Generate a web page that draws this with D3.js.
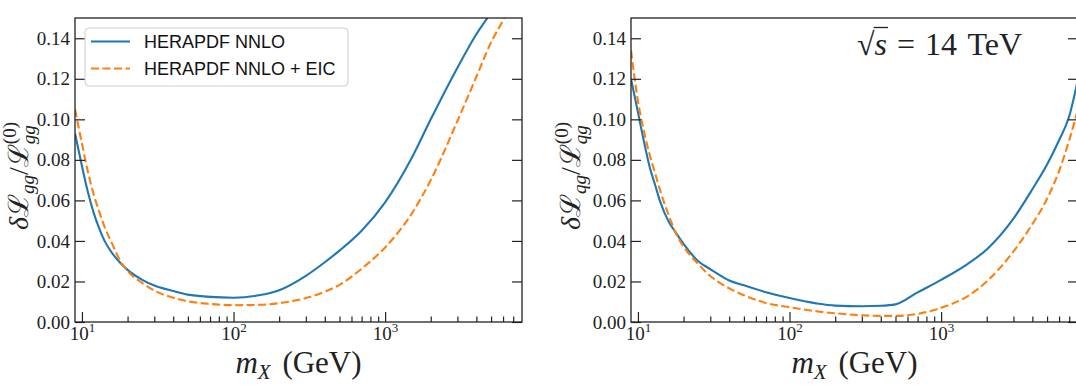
<!DOCTYPE html>
<html>
<head>
<meta charset="utf-8">
<script src="https://cdn.jsdelivr.net/npm/d3@7"></script>
<style>
  body { margin: 0; background: #fff; }
  svg { display: block; }
</style>
</head>
<body>
<svg id="chart"></svg>
<script>
const width = 1076, height = 385;

// mass grid (GeV) shared by all curves
const mass = [9, 10, 11, 12, 13, 14, 16, 18, 20, 25, 30, 40, 50, 70, 100, 150, 200, 300, 400, 500,
              700, 1000, 1500, 2000, 3000, 4000, 5000, 6000, 7000, 8000];

// gg luminosity uncertainty
const ggHera = [0.093, 0.077, 0.0635, 0.0535, 0.0462, 0.0405, 0.0335, 0.0290, 0.0257, 0.0208, 0.018, 0.0153, 0.0135, 0.0124, 0.0120, 0.0133, 0.0157, 0.0228, 0.0295, 0.0352,
                0.0450, 0.059, 0.081, 0.100, 0.1255, 0.142, 0.1525, null, null, null];
const ggEic  = [0.105, 0.088, 0.0735, 0.0625, 0.0545, 0.0476, 0.0378, 0.0298, 0.0252, 0.0192, 0.0155, 0.012, 0.0102, 0.0089, 0.0083, 0.0085, 0.0093, 0.0118, 0.0150, 0.0183,
                0.0263, 0.0368, 0.0535, 0.070, 0.0992, 0.121, 0.138, 0.149, 0.160, null];

// qg luminosity uncertainty
const qgHera = [0.120, 0.1035, 0.0884, 0.076, 0.0675, 0.0595, 0.0493, 0.0435, 0.0385, 0.030, 0.0261, 0.0205, 0.0181, 0.0147, 0.0118, 0.0092, 0.0081, 0.0078, 0.0080, 0.0087,
                0.0146, 0.0208, 0.0287, 0.0358, 0.0510, 0.0655, 0.0777, 0.0897, 0.1015, 0.120];
const qgEic  = [0.134, 0.109, 0.0935, 0.082, 0.0732, 0.065, 0.0525, 0.0430, 0.0372, 0.0286, 0.0227, 0.0166, 0.0132, 0.0094, 0.0073, 0.0053, 0.0043, 0.0033, 0.0030, 0.0030,
                0.0040, 0.0070, 0.0128, 0.0200, 0.0348, 0.0483, 0.0608, 0.0745, 0.0897, 0.105];

const seriesNames = ["HERAPDF NNLO", "HERAPDF NNLO + EIC"];
const yTicks = [0, 0.02, 0.04, 0.06, 0.08, 0.10, 0.12, 0.14];
const xMajor = [10, 100, 1000];
const xMinor = [20, 30, 40, 50, 60, 70, 80, 90, 200, 300, 400, 500, 600, 700, 800, 900, 2000, 3000, 4000, 5000, 6000, 7000];

const colors = ["#1f77b4", "#ff7f0e"];
const serif = "'Liberation Serif', 'DejaVu Serif', serif";
const sans = "'Liberation Sans', Arial, sans-serif";
const ink = "#222";

const svg = d3.select("#chart").attr("width", width).attr("height", height);

const plotTop = 18, plotBottom = 322;
const panels = [
  { id: 0, x0: 75, x1: 522, data: [ggHera, ggEic], sub: "gg", labelX: 28, legend: true },
  { id: 1, x0: 631, x1: 1078, data: [qgHera, qgEic], sub: "qg", labelX: 580, note: true }
];

panels.forEach(drawPanel);

function textWidth(str, size, family, italic) {
  const t = svg.append("text").attr("font-size", size).attr("font-family", family)
    .attr("font-style", italic ? "italic" : "normal").text(str);
  const w = t.node().getComputedTextLength();
  t.remove();
  return w;
}

function drawPanel(p) {
  const x = d3.scaleLog().domain([9, 8000]).range([p.x0, p.x1]);
  const y = d3.scaleLinear().domain([0, 0.15]).range([plotBottom, plotTop]);

  svg.append("clipPath").attr("id", "clip" + p.id)
    .append("rect").attr("x", p.x0).attr("y", plotTop)
    .attr("width", p.x1 - p.x0).attr("height", plotBottom - plotTop);

  const line = d3.line()
    .defined(d => d[1] != null)
    .x(d => x(d[0])).y(d => y(d[1]))
    .curve(d3.curveMonotoneX);

  const curves = svg.append("g").attr("clip-path", `url(#clip${p.id})`);
  p.data.forEach((vals, i) => {
    curves.append("path")
      .datum(mass.map((m, k) => [m, vals[k]]))
      .attr("d", line)
      .attr("fill", "none")
      .attr("stroke", colors[i])
      .attr("stroke-width", 2.1)
      .attr("stroke-dasharray", i === 1 ? "8,3.5" : null);
  });

  // axes, ticks pointing inward
  const left = svg.append("g").attr("transform", `translate(${p.x0},0)`)
    .call(d3.axisLeft(y).tickValues(yTicks).tickSize(-10).tickPadding(5).tickFormat(d3.format(".2f")));
  const right = svg.append("g").attr("transform", `translate(${p.x1},0)`)
    .call(d3.axisRight(y).tickValues(yTicks).tickSize(-10).tickFormat(""));
  const major = svg.append("g").attr("transform", `translate(0,${plotBottom})`)
    .call(d3.axisBottom(x).tickValues(xMajor).tickSize(-10).tickFormat(""));
  const minor = svg.append("g").attr("transform", `translate(0,${plotBottom})`)
    .call(d3.axisBottom(x).tickValues(xMinor).tickSize(-5.5).tickFormat(""));

  [left, right, major, minor].forEach(a => {
    a.select(".domain").remove();
    a.selectAll(".tick line").attr("stroke", ink).attr("stroke-width", 1.2);
  });
  left.selectAll(".tick text")
    .attr("font-family", serif).attr("font-size", 19).attr("fill", ink);

  // 10^n tick labels
  major.selectAll(".tick").append("text")
    .attr("y", 18).attr("fill", ink)
    .attr("font-family", serif).attr("font-size", 19)
    .attr("text-anchor", "middle")
    .each(function(d) {
      const t = d3.select(this);
      t.append("tspan").text("10");
      t.append("tspan").attr("font-size", 13).attr("dy", -8).text(Math.round(Math.log10(d)));
    });

  // frame
  svg.append("rect")
    .attr("x", p.x0).attr("y", plotTop)
    .attr("width", p.x1 - p.x0).attr("height", plotBottom - plotTop)
    .attr("fill", "none").attr("stroke", ink).attr("stroke-width", 1.3);

  // x label
  const xl = svg.append("text")
    .attr("x", (p.x0 + p.x1) / 2).attr("y", 373)
    .attr("text-anchor", "middle").attr("font-family", serif)
    .attr("font-size", 31).attr("fill", ink).style("white-space", "pre");
  xl.append("tspan").attr("font-style", "italic").text("m");
  xl.append("tspan").attr("font-style", "italic").attr("font-size", 21).attr("dy", 6).text("X");
  xl.append("tspan").attr("dy", -6).attr("dx", 4).text(" (GeV)");

  // y label
  const subW = textWidth(p.sub, 19, serif, true);
  const yl = svg.append("text")
    .attr("transform", `translate(${p.labelX},${(plotTop + plotBottom) / 2 + 6}) rotate(-90)`)
    .attr("text-anchor", "middle").attr("font-family", serif)
    .attr("font-size", 28).attr("fill", ink);
  yl.append("tspan").attr("font-style", "italic").text("δ");
  yl.append("tspan").text("ℒ");
  yl.append("tspan").attr("font-style", "italic").attr("font-size", 19).attr("dy", 6).text(p.sub);
  yl.append("tspan").attr("dy", -6).text("/ℒ");
  yl.append("tspan").attr("font-style", "italic").attr("font-size", 19).attr("dy", 7).text(p.sub);
  yl.append("tspan").attr("font-size", 19).attr("dx", -subW).attr("dy", -19).text("(0)");

  if (p.legend) drawLegend();
  if (p.note) drawNote();
}

function drawLegend() {
  const lg = svg.append("g");
  lg.append("rect")
    .attr("x", 85).attr("y", 28).attr("width", 263).attr("height", 58).attr("rx", 4)
    .attr("fill", "#fff").attr("fill-opacity", 0.8)
    .attr("stroke", "#cccccc").attr("stroke-width", 1);
  seriesNames.forEach((name, i) => {
    const yy = 41.5 + i * 27;
    lg.append("line")
      .attr("x1", 91).attr("x2", 130).attr("y1", yy).attr("y2", yy)
      .attr("stroke", colors[i]).attr("stroke-width", 2.1)
      .attr("stroke-dasharray", i === 1 ? "8,3.5" : null);
    lg.append("text")
      .attr("x", 144).attr("y", yy + 6.5)
      .attr("font-family", sans).attr("font-size", 18).attr("fill", "#111")
      .text(name);
  });
}

function drawNote() {
  const nt = svg.append("text")
    .attr("x", 857).attr("y", 55)
    .attr("font-family", serif).attr("font-size", 32).attr("fill", ink)
    .style("white-space", "pre");
  nt.append("tspan").text("√");
  nt.append("tspan").attr("font-style", "italic").text("s");
  nt.append("tspan").attr("dx", 10).text("=");
  nt.append("tspan").attr("dx", 10).text("14");
  nt.append("tspan").attr("dx", 3).text(" TeV");
  const node = nt.node();
  const rad = node.getExtentOfChar(0);
  const sEnd = node.getEndPositionOfChar(1).x;
  svg.append("line")
    .attr("x1", rad.x + rad.width - 1).attr("x2", sEnd + 1)
    .attr("y1", rad.y + 1.5).attr("y2", rad.y + 1.5)
    .attr("stroke", ink).attr("stroke-width", 1.3);
}
</script>
</body>
</html>
